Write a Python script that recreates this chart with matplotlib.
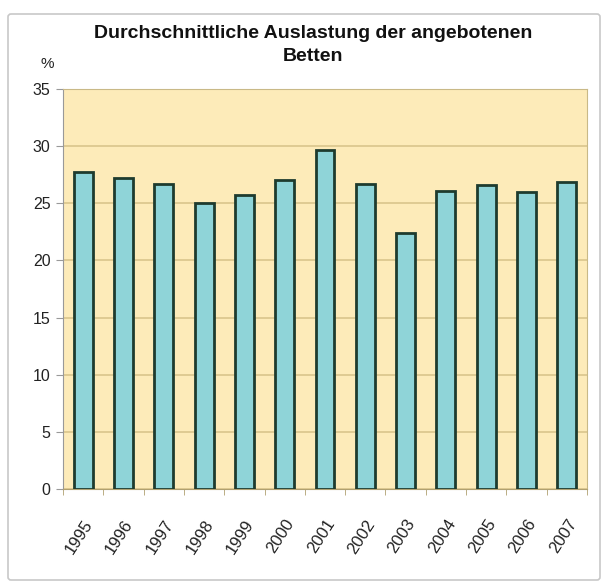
import matplotlib
matplotlib.use("Agg")
import matplotlib.pyplot as plt
from matplotlib.patches import FancyBboxPatch
from matplotlib import font_manager as fm

years = ["1995", "1996", "1997", "1998", "1999", "2000", "2001",
         "2002", "2003", "2004", "2005", "2006", "2007"]
values = [27.7, 27.2, 26.7, 25.0, 25.7, 27.0, 29.7, 26.7, 22.4, 26.1, 26.6, 26.0, 26.9]
yticks = [0, 5, 10, 15, 20, 25, 30, 35]
title = "Durchschnittliche Auslastung der angebotenen\nBetten"

names = {f.name for f in fm.fontManager.ttflist}
fam = "Liberation Sans Narrow" if "Liberation Sans Narrow" in names else "Liberation Sans"
plt.rcParams["font.family"] = [fam, "DejaVu Sans"]

fig = plt.figure(figsize=(6.08, 5.84), dpi=100)
fig.patch.set_facecolor("white")
border = FancyBboxPatch((8/608, 4/584), 592/608, 566/584,
                        boxstyle="round,pad=0,rounding_size=0.005",
                        transform=fig.transFigure, facecolor="white",
                        edgecolor="#c8c8c8", linewidth=1.2, zorder=-5)
fig.patches.append(border)

ax = fig.add_axes([63/608, 1-489/584, 524/608, 400/584])
ax.set_zorder(3)
ax.set_facecolor("#fdebb9")
x = list(range(len(years)))
ax.bar(x, values, width=0.47, color="#8fd4d8", edgecolor="#1e3b2e", linewidth=2.0, zorder=3)
ax.set_xlim(-0.5, len(years) - 0.5)
ax.set_ylim(0, 35)
ax.set_yticks(yticks)
ax.set_yticklabels([str(t) for t in yticks], fontsize=11.5, color="#222222")
ax.yaxis.grid(True, color="#d9c58c", linewidth=1.2, zorder=1)
ax.set_axisbelow(True)
ax.set_xticks(x)
ax.set_xticklabels(years, rotation=57, ha="right", rotation_mode="anchor", fontsize=12, color="#222222")
ax.set_xticks([i - 0.5 for i in range(len(years) + 1)], minor=True)
ax.tick_params(axis="x", which="major", length=0, pad=20)
ax.tick_params(axis="x", which="minor", length=4, color="#b0a070")
ax.tick_params(axis="y", length=5, color="#999999", pad=4)
for s in ["top", "right"]:
    ax.spines[s].set_color("#c9b987")
ax.spines["left"].set_color("#999999")
ax.spines["bottom"].set_color("#b0a070")

fig.text(313/608, 1-45/584, title, ha="center", va="center", fontsize=14,
         fontweight="bold", linespacing=1.45, color="#111111")
fig.text(47/608, 1-64/584, "%", ha="center", va="center", fontsize=11, color="#222222")

fig.savefig("out.png", dpi=100)
